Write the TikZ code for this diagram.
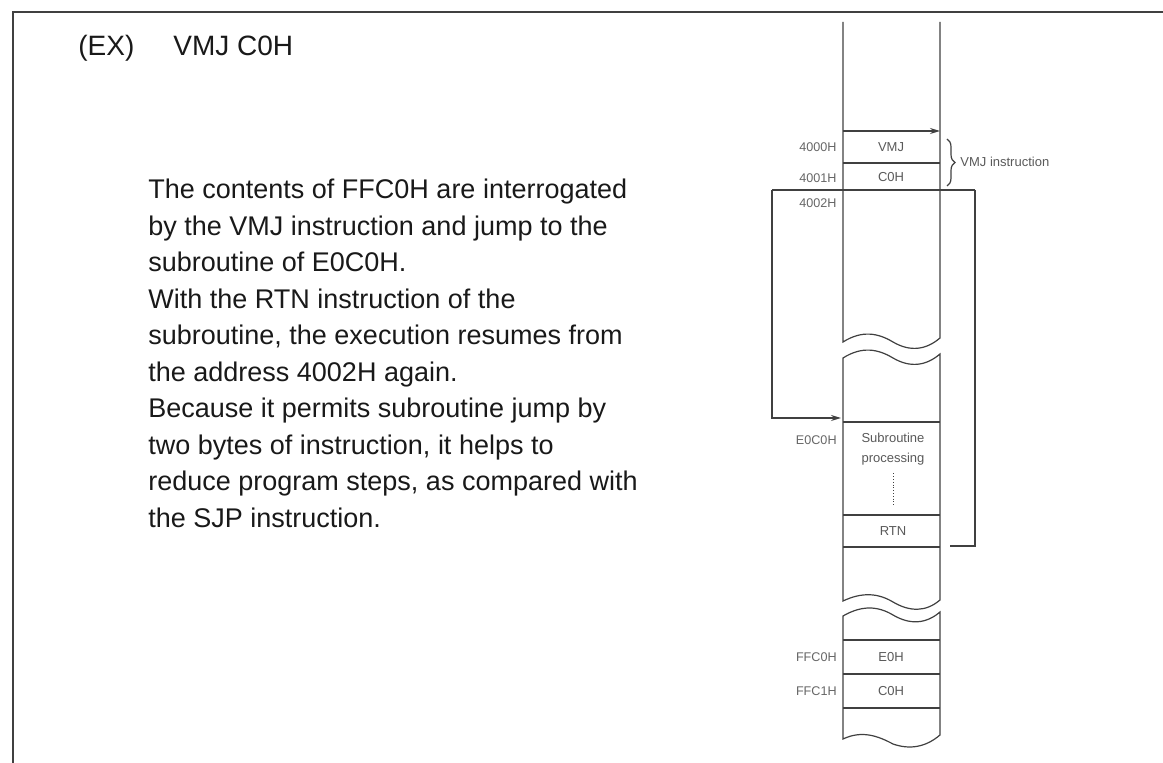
\documentclass[tikz,border=0pt]{standalone}
\usepackage{fontspec}
\setmainfont{Liberation Sans}
\usetikzlibrary{arrows.meta,positioning,decorations.pathreplacing}

\begin{document}
\begin{tikzpicture}[
  x=0.5pt,y=-0.5pt,
  >={Stealth[length=5pt,width=3pt]},
  line/.style={draw=black!75,line width=0.6pt},
  body/.style={anchor=north west,align=left,font=\fontsize{13.5}{18.25}\selectfont,text=black!90,inner sep=0pt},
  addr/.style={anchor=east,font=\fontsize{6.3}{8}\selectfont,text=black!60,inner sep=1pt},
  cell/.style={font=\fontsize{6.5}{10}\selectfont,text=black!65,inner sep=0pt,align=center}
]
\useasboundingbox (0,0) rectangle (1163,763);
% Page frame, open at the right and the bottom.
\draw[line,line width=1pt] (13,763) -- (13,12) -- (1163,12);

% Heading and explanation.
\node[body,anchor=base west,font=\fontsize{14}{18}\selectfont] (ex) at (78,56) {(EX)};
\node[body,anchor=base west,font=\fontsize{14}{18}\selectfont] (op) at (173,56) {VMJ C0H};
\node[body] (txt) at (148,179) {The contents of FFC0H are interrogated\\
by the VMJ instruction and jump to the\\
subroutine of E0C0H.\\
With the RTN instruction of the\\
subroutine, the execution resumes from\\
the address 4002H again.\\
Because it permits subroutine jump by\\
two bytes of instruction, it helps to\\
reduce program steps, as compared with\\
the SJP instruction.};

% Memory map, cut twice.
\draw[line] (843,22) -- (843,342) .. controls (862,330) and (878,333) .. (893,342)
  .. controls (910,352) and (926,350) .. (940,338) -- (940,22);
\draw[line] (843,358) .. controls (862,346) and (878,349) .. (893,358)
  .. controls (910,368) and (926,366) .. (940,354) -- (940,600)
  .. controls (926,612) and (910,612) .. (893,602) .. controls (878,593) and (862,592) .. (843,601) -- cycle;
\draw[line] (843,616) .. controls (862,605) and (878,606) .. (893,615)
  .. controls (910,625) and (926,624) .. (940,612) -- (940,735)
  .. controls (926,747) and (910,750) .. (893,744) .. controls (878,736) and (862,730) .. (843,739) -- cycle;
\foreach \y in {163,190,422,515,547,640,674,708}{
  \draw[line] (843,\y) -- (940,\y);
}
\draw[line,->] (843,131) -- (940,131);

% Cell contents and addresses.
\node[cell] (vmj) at (891,147) {VMJ};
\node[cell] (c0h) at (891,177) {C0H};
\node[cell] (sub) at (893,449) {Subroutine\\processing};
\node[cell] (rtn) at (893,531) {RTN};
\node[cell] (e0h) at (891,657) {E0H};
\node[cell] (c0hb) at (891,691) {C0H};
\draw[line,line width=0.4pt,densely dotted] (sub.south) ++(0,8) -- (893,505);

\node[addr] (a4000) at (839,147) {4000H};
\node[addr] (a4001) at (839,178) {4001H};
\node[addr] (a4002) at (839,203) {4002H};
\node[addr] (ae0c0) at (839,440) {E0C0H};
\node[addr] (affc0) at (839,657) {FFC0H};
\node[addr] (affc1) at (839,691) {FFC1H};

% Two-byte instruction.
\draw[line,decorate,decoration={brace,amplitude=4pt}] (947,139) -- (947,186);
\node[cell,anchor=west] (vmjins) at (960,162) {VMJ instruction};

% Jump to the subroutine and return.
\coordinate (jmp) at (772,190);
\coordinate (ret) at (975,190);
\coordinate (entry) at (841,418);
\coordinate (back) at (950,546);
\draw[line] (jmp) -- (ret);
\draw[line,->] (jmp) |- (entry);
\draw[line] (ret) |- (back);
\end{tikzpicture}
\end{document}
